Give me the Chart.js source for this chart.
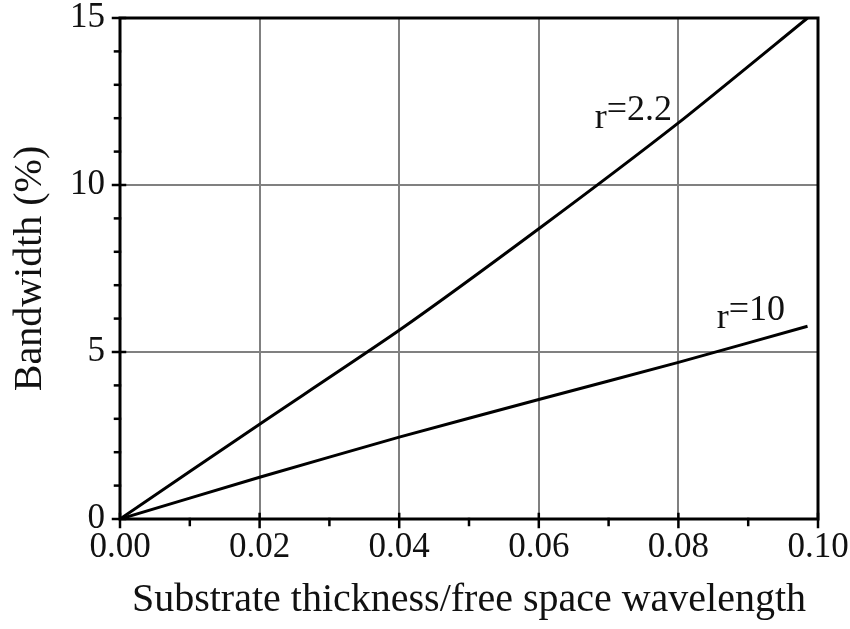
<!DOCTYPE html>
<html>
<head>
<meta charset="utf-8">
<script src="https://cdn.jsdelivr.net/npm/chart.js@4/dist/chart.umd.min.js"></script>
<style>
html,body{margin:0;padding:0;background:#fff;}
#c{display:block;}
</style>
</head>
<body>
<canvas id="c" width="850" height="629"></canvas>
<script>
// ---- data ----
const xEr22 = [0, 0.02, 0.04, 0.06, 0.08, 0.0985];
const yEr22 = [0, 2.84, 5.65, 8.69, 11.86, 15.0];
const xEr10 = [0, 0.02, 0.04, 0.06, 0.08, 0.0985];
const yEr10 = [0, 1.25, 2.45, 3.58, 4.69, 5.77];
const seriesNames = ['r=2.2', 'r=10'];
const xTitle = 'Substrate thickness/free space wavelength';
const yTitle = 'Bandwidth (%)';
const xTicks = [0, 0.02, 0.04, 0.06, 0.08, 0.10];
const yTicks = [0, 5, 10, 15];

const toPts = (xs, ys) => xs.map((x, i) => ({x: x, y: ys[i]}));
const FONT = '"Liberation Serif", "Times New Roman", serif';

// curve labels: "r" followed by raised "=value", anchored in data coordinates
const curveLabels = [
  {sub: 'r', sup: '=2.2', x: 0.0680, y: 11.70},
  {sub: 'r', sup: '=10',  x: 0.0855, y: 5.72}
];

const framePlugin = {
  id: 'frame',
  afterDraw(chart) {
    const {ctx, chartArea: a, scales} = chart;
    const xs = scales.x, ys = scales.y;
    ctx.save();
    ctx.strokeStyle = '#000';
    ctx.lineCap = 'square';
    ctx.lineWidth = 2.5;
    for (let v = 0; v <= 15; v += 1) {
      const py = ys.getPixelForValue(v);
      ctx.beginPath();
      if (v % 5 === 0) { ctx.moveTo(a.left - 7, py); ctx.lineTo(a.left + 5, py); }
      else { ctx.moveTo(a.left - 5, py); ctx.lineTo(a.left, py); }
      ctx.stroke();
    }
    for (let i = 0; i <= 10; i++) {
      const px = xs.getPixelForValue(i / 100);
      ctx.beginPath();
      if (i % 2 === 0) { ctx.moveTo(px, a.bottom + 8); ctx.lineTo(px, a.bottom - 5); }
      else { ctx.moveTo(px, a.bottom + 6); ctx.lineTo(px, a.bottom); }
      ctx.stroke();
    }
    ctx.lineWidth = 3;
    ctx.strokeRect(a.left, a.top, a.right - a.left, a.bottom - a.top);
    ctx.fillStyle = '#111';
    ctx.font = '36px ' + FONT;
    ctx.textBaseline = 'alphabetic';
    ctx.textAlign = 'left';
    curveLabels.forEach(l => {
      const px = xs.getPixelForValue(l.x), py = ys.getPixelForValue(l.y);
      ctx.fillText(l.sub, px, py);
      const w = ctx.measureText(l.sub).width;
      ctx.fillText(l.sup, px + w, py - 8);
    });
    ctx.restore();
  }
};

function zeroPad(s) { s.paddingTop = 0; s.paddingBottom = 0; s.paddingLeft = 0; s.paddingRight = 0; }

new Chart(document.getElementById('c'), {
  type: 'scatter',
  data: {
    datasets: [
      {label: seriesNames[0], data: toPts(xEr22, yEr22), showLine: true, borderColor: '#000', borderWidth: 3, pointRadius: 0, tension: 0.2, fill: false},
      {label: seriesNames[1], data: toPts(xEr10, yEr10), showLine: true, borderColor: '#000', borderWidth: 3, pointRadius: 0, tension: 0.2, fill: false}
    ]
  },
  options: {
    responsive: false,
    animation: false,
    layout: {padding: {top: 18, right: 32, left: 0, bottom: 0}},
    plugins: {legend: {display: false}, tooltip: {enabled: false}},
    scales: {
      x: {
        type: 'linear', min: 0, max: 0.1,
        afterFit(s) { s.height = 110; zeroPad(s); },
        afterBuildTicks(s) { s.ticks = xTicks.map(v => ({value: v})); },
        border: {display: false},
        grid: {color: '#808080', lineWidth: 2, drawTicks: false},
        ticks: {color: '#111', padding: 8, font: {family: FONT, size: 35}, callback: v => Number(v).toFixed(2), maxRotation: 0},
        title: {display: true, text: xTitle, color: '#111', font: {family: FONT, size: 40}, padding: {top: 0, bottom: 5}}
      },
      y: {
        type: 'linear', min: 0, max: 15,
        afterFit(s) { s.width = 120; zeroPad(s); },
        afterBuildTicks(s) { s.ticks = yTicks.map(v => ({value: v})); },
        border: {display: false},
        grid: {color: '#808080', lineWidth: 2, drawTicks: false},
        ticks: {color: '#111', padding: 15, font: {family: FONT, size: 35}, callback: v => String(v)},
        title: {display: true, text: yTitle, color: '#111', font: {family: FONT, size: 40}, padding: {top: 6, bottom: 0}}
      }
    }
  },
  plugins: [framePlugin]
});
</script>
</body>
</html>
